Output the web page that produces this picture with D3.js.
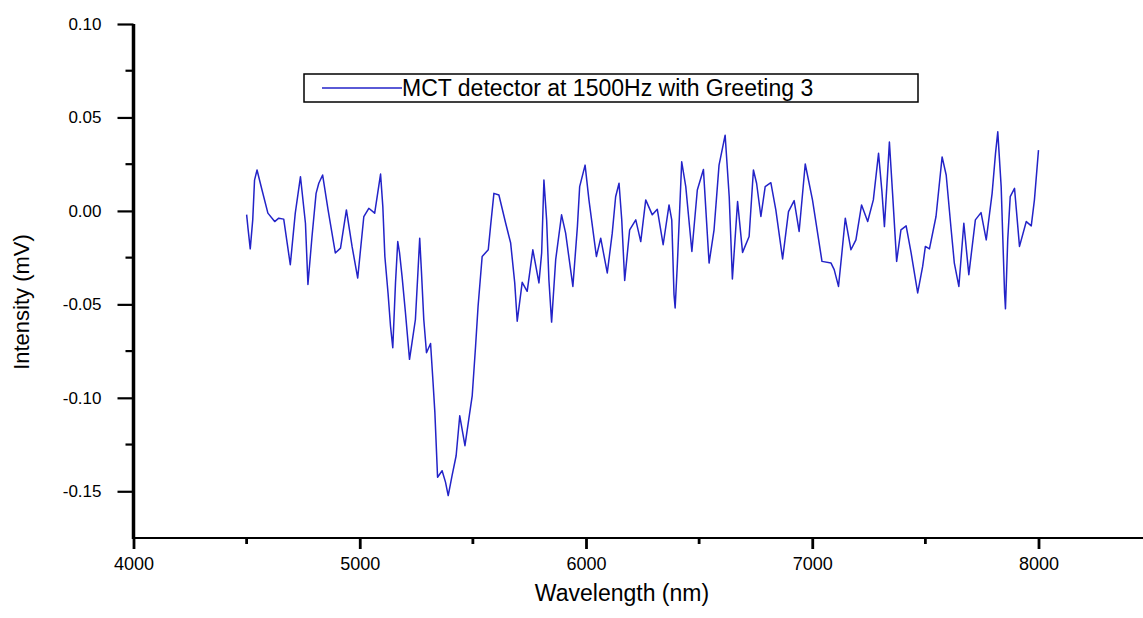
<!DOCTYPE html>
<html>
<head>
<meta charset="utf-8">
<script src="https://cdn.jsdelivr.net/npm/d3@7"></script>
<style>
  html, body { margin: 0; padding: 0; background: #fff; }
  svg { display: block; font-family: "Liberation Sans", Arial, sans-serif; }
</style>
</head>
<body>
<svg id="chart" width="1143" height="618"></svg>
<script>
// ---- data ----
const wavelength = [4500,4506,4516,4527,4535,4546,4568,4594,4624,4642,4664,4693,4715,4738,4760,4771,4789,4807,4819,4836,
  4860,4892,4915,4941,4966,4991,5018,5040,5066,5092,5102,5111,5125,5136,5146,5158,5168,5176,5187,5202,
  5220,5231,5246,5257,5265,5273,5283,5295,5313,5324,5332,5344,5364,5379,5391,5408,5426,5442,5465,5482,
  5497,5512,5523,5541,5568,5578,5593,5615,5645,5667,5685,5696,5718,5740,5765,5792,5804,5814,5826,5836,
  5848,5866,5892,5910,5942,5962,5972,5996,6013,6046,6065,6094,6116,6131,6146,6158,6171,6193,6220,6242,
  6264,6293,6315,6341,6367,6379,6389,6394,6404,6423,6441,6468,6492,6519,6544,6566,6588,6615,6633,6647,
  6670,6692,6721,6740,6754,6773,6792,6817,6839,6869,6895,6920,6942,6969,7001,7043,7083,7097,7116,7131,
  7146,7171,7193,7218,7245,7270,7293,7308,7319,7333,7341,7355,7373,7392,7415,7437,7466,7488,7500,7518,
  7547,7574,7592,7614,7628,7648,7670,7692,7721,7746,7769,7795,7810,7820,7835,7850,7854,7864,7875,7894,
  7916,7946,7968,7982,8000];
const intensity = [-0.0020,-0.0092,-0.0203,-0.0048,0.0165,0.0219,0.0112,-0.0012,-0.0057,-0.0039,-0.0044,-0.0288,-0.0012,0.0183,-0.0066,-0.0394,-0.0137,0.0094,0.0148,0.0192,
  0.0005,-0.0225,-0.0199,0.0005,-0.0190,-0.0359,-0.0030,0.0014,-0.0012,0.0197,0.0023,-0.0244,-0.0439,-0.0617,-0.0732,-0.0385,-0.0164,-0.0225,-0.0350,-0.0545,
  -0.0794,-0.0705,-0.0581,-0.0332,-0.0146,-0.0332,-0.0581,-0.0759,-0.0709,-0.0918,-0.1078,-0.1425,-0.1390,-0.1451,-0.1523,-0.1416,-0.1310,-0.1096,-0.1256,-0.1114,
  -0.0990,-0.0723,-0.0510,-0.0244,-0.0208,-0.0084,0.0094,0.0085,-0.0066,-0.0172,-0.0385,-0.0590,-0.0382,-0.0430,-0.0208,-0.0385,-0.0225,0.0165,-0.0048,-0.0368,
  -0.0595,-0.0261,-0.0021,-0.0119,-0.0404,-0.0084,0.0130,0.0245,0.0059,-0.0244,-0.0146,-0.0332,-0.0119,0.0076,0.0148,-0.0048,-0.0372,-0.0101,-0.0048,-0.0164,
  0.0059,-0.0021,0.0009,-0.0181,0.0032,-0.0048,-0.0448,-0.0519,-0.0279,0.0263,0.0130,-0.0217,0.0112,0.0222,-0.0279,-0.0101,0.0245,0.0405,0.0076,-0.0364,
  0.0050,-0.0222,-0.0137,0.0219,0.0148,-0.0030,0.0130,0.0151,0.0005,-0.0257,-0.0004,0.0055,-0.0110,0.0251,0.0059,-0.0270,-0.0279,-0.0314,-0.0404,-0.0225,
  -0.0039,-0.0208,-0.0155,0.0032,-0.0057,0.0059,0.0308,0.0103,-0.0084,0.0201,0.0369,0.0094,-0.0270,-0.0101,-0.0080,-0.0225,-0.0439,-0.0297,-0.0190,-0.0203,
  -0.0030,0.0289,0.0192,-0.0101,-0.0279,-0.0404,-0.0066,-0.0341,-0.0048,-0.0009,-0.0155,0.0094,0.0308,0.0423,0.0130,-0.0439,-0.0524,-0.0155,0.0076,0.0121,
  -0.0190,-0.0057,-0.0080,0.0059,0.0325];
const xTickValues = [4000, 5000, 6000, 7000, 8000];
const xMinorTicks = [4500, 5500, 6500, 7500];
const yTickValues = [0.10, 0.05, 0.00, -0.05, -0.10, -0.15];
const yMinorTicks = [0.075, 0.025, -0.025, -0.075, -0.125];
const seriesName = "MCT detector at 1500Hz with Greeting 3";
const xTitle = "Wavelength (nm)";
const yTitle = "Intensity (mV)";

// ---- layout ----
const svg = d3.select("#chart");
const x0 = 133.5, yTop = 24, yBottom = 538;
const pxPerNm = 0.22625;
const x = d3.scaleLinear().domain([4000, 8500]).range([x0, x0 + 4500 * pxPerNm]);
const y = d3.scaleLinear().domain([-0.175, 0.10]).range([yBottom, yTop]);
const lineColor = "#2323c8";
const fontFam = "Liberation Sans, Arial, sans-serif";

// data line
const data = wavelength.map((w, i) => ({w, v: intensity[i]}));
svg.append("path")
  .datum(data)
  .attr("fill", "none")
  .attr("stroke", lineColor)
  .attr("stroke-width", 1.5)
  .attr("stroke-linejoin", "round")
  .attr("d", d3.line().x(d => x(d.w)).y(d => y(d.v)));

// x axis
const xAxis = svg.append("g").attr("transform", `translate(0,${yBottom})`)
  .call(d3.axisBottom(x).tickValues(xTickValues).tickSize(11).tickPadding(8).tickFormat(d => String(d)));
xAxis.select(".domain").attr("stroke", "#000").attr("stroke-width", 2.2).attr("d", `M${x0},0H1160`);
xAxis.selectAll(".tick line").attr("stroke", "#000").attr("stroke-width", 2.8);
xAxis.selectAll(".tick text").attr("font-size", 18).attr("fill", "#000").attr("font-family", fontFam);
svg.append("g").attr("transform", `translate(0,${yBottom})`)
  .selectAll("line").data(xMinorTicks).join("line")
  .attr("x1", d => x(d)).attr("x2", d => x(d)).attr("y1", 0).attr("y2", 6)
  .attr("stroke", "#000").attr("stroke-width", 2.8);

// y axis
const yAxis = svg.append("g").attr("transform", `translate(${x0},0)`)
  .call(d3.axisLeft(y).tickValues(yTickValues).tickSize(16).tickPadding(16).tickFormat(d => d.toFixed(2)));
yAxis.select(".domain").attr("stroke", "#000").attr("stroke-width", 3.5).attr("d", `M0,${yTop}V${yBottom + 1}`);
yAxis.selectAll(".tick line").attr("stroke", "#000").attr("stroke-width", 2.2);
yAxis.selectAll(".tick text").attr("font-size", 17).attr("fill", "#000").attr("font-family", fontFam);
svg.append("g").attr("transform", `translate(${x0},0)`)
  .selectAll("line").data(yMinorTicks).join("line")
  .attr("x1", -8).attr("x2", 0).attr("y1", d => y(d)).attr("y2", d => y(d))
  .attr("stroke", "#000").attr("stroke-width", 2.2);

// axis titles
svg.append("text")
  .attr("x", 622).attr("y", 601)
  .attr("text-anchor", "middle").attr("font-size", 23).attr("fill", "#000")
  .text(xTitle);
svg.append("text")
  .attr("transform", `translate(29,302)rotate(-90)`)
  .attr("text-anchor", "middle").attr("font-size", 22).attr("fill", "#000")
  .text(yTitle);

// legend
const leg = svg.append("g");
leg.append("rect").attr("x", 304).attr("y", 74).attr("width", 614).attr("height", 28)
  .attr("fill", "#fff").attr("stroke", "#000").attr("stroke-width", 1.5);
leg.append("line").attr("x1", 322).attr("x2", 402).attr("y1", 88).attr("y2", 88)
  .attr("stroke", lineColor).attr("stroke-width", 1.5);
leg.append("text").attr("x", 402).attr("y", 96)
  .attr("font-size", 23).attr("fill", "#000")
  .text(seriesName);
</script>
</body>
</html>
